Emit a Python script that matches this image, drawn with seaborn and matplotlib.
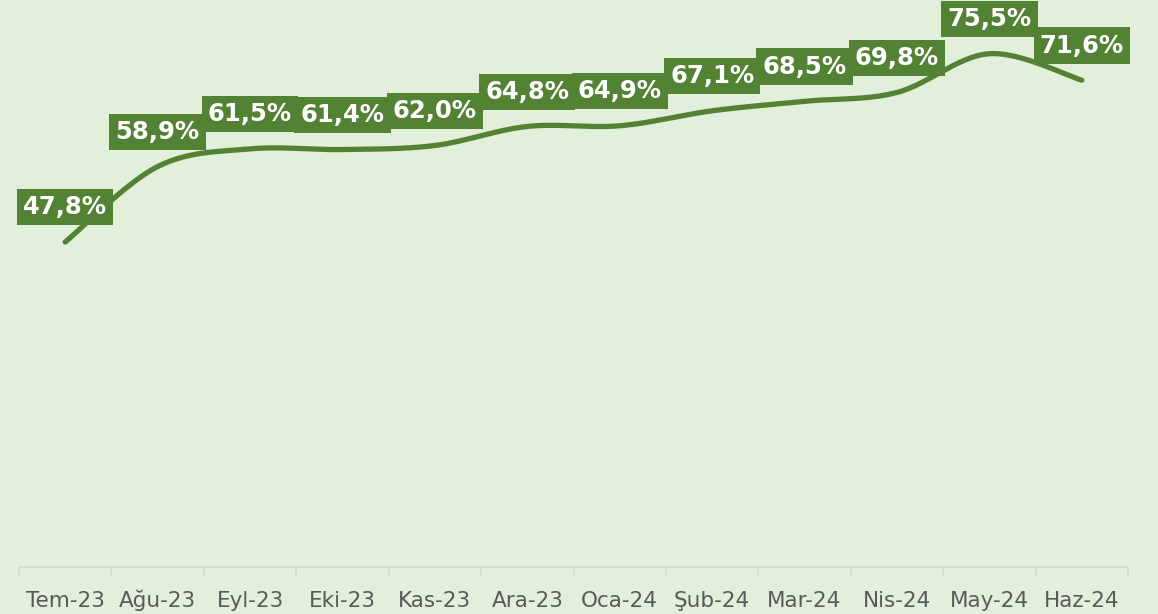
import numpy as np
import pandas as pd
import matplotlib
matplotlib.use('Agg')
import matplotlib.pyplot as plt
import seaborn as sns

months = ['Tem-23', 'Ağu-23', 'Eyl-23', 'Eki-23', 'Kas-23', 'Ara-23',
          'Oca-24', 'Şub-24', 'Mar-24', 'Nis-24', 'May-24', 'Haz-24']
rates = [47.8, 58.9, 61.5, 61.4, 62.0, 64.8, 64.9, 67.1, 68.5, 69.8, 75.5, 71.6]

bg = '#E2EFDA'
green = '#548235'


def smooth(y, n=30):
    # catmull-rom style bezier, like excel's smoothed line
    y = np.asarray(y, dtype=float)
    xs, ys = [], []
    for i in range(len(y) - 1):
        p0 = y[i - 1] if i > 0 else y[i]
        p3 = y[i + 2] if i + 2 < len(y) else y[i + 1]
        p1, p2 = y[i], y[i + 1]
        c1 = p1 + (p2 - p0) / 6
        c2 = p2 - (p3 - p1) / 6
        x0 = i - 1 if i > 0 else i
        x3 = i + 2 if i + 2 < len(y) else i + 1
        cx1 = i + (i + 1 - x0) / 6
        cx2 = i + 1 - (x3 - i) / 6
        t = np.linspace(0, 1, n, endpoint=(i == len(y) - 2))
        b = [(1 - t) ** 3, 3 * (1 - t) ** 2 * t, 3 * (1 - t) * t ** 2, t ** 3]
        xs.append(b[0] * i + b[1] * cx1 + b[2] * cx2 + b[3] * (i + 1))
        ys.append(b[0] * p1 + b[1] * c1 + b[2] * c2 + b[3] * p2)
    return np.concatenate(xs), np.concatenate(ys)


sx, sy = smooth(rates)
curve = pd.DataFrame({'x': sx, 'y': sy})

sns.set_style('white')
plt.rcParams['font.family'] = ['DejaVu Sans']

fig = plt.figure(figsize=(11.58, 6.14), dpi=100, facecolor=bg)
ax = fig.add_axes([19 / 1158, 1 - 567 / 614, 1109 / 1158, 567 / 614])
ax.set_facecolor(bg)

sns.lineplot(data=curve, x='x', y='y', color=green, linewidth=3.8, ax=ax,
             solid_capstyle='round', sort=False)

for i, v in enumerate(rates):
    ax.annotate(f'{v:.1f}%'.replace('.', ','), (i, v), xytext=(0, 25),
                textcoords='offset points', ha='center', va='center',
                color='white', fontsize=17.5, fontweight='bold',
                bbox=dict(boxstyle='square,pad=0.25', fc=green, ec='none'),
                annotation_clip=False, clip_on=False)

ax.set_xlim(-0.5, len(months) - 0.5)
ax.set_ylim(0, 83.4)
ax.set_yticks([])
ax.set_xticks(np.arange(-0.5, len(months), 1.0))
ax.set_xticklabels([])
ax.set_xticks(np.arange(len(months)), minor=True)
ax.set_xticklabels(months, minor=True, fontsize=15.5, color='#595959', va='baseline')
ax.tick_params(axis='x', which='major', direction='out', length=7, width=1.3,
               color='#D9D9D9', bottom=True)
ax.tick_params(axis='x', which='minor', length=0, pad=29)
ax.set_xlabel('')
ax.set_ylabel('')
for s in ['top', 'right', 'left']:
    ax.spines[s].set_visible(False)
ax.spines['bottom'].set_color('#D9D9D9')
ax.spines['bottom'].set_linewidth(1.3)

fig.savefig('out.png', dpi=100, facecolor=bg)
